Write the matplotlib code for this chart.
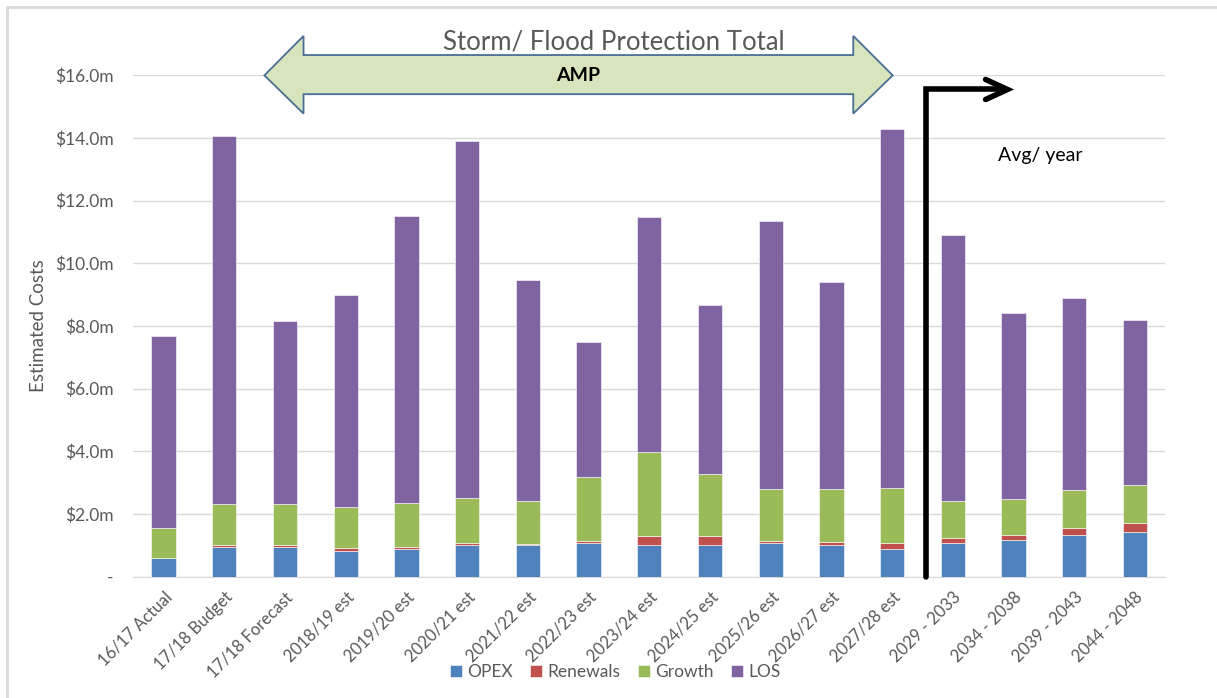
import numpy as np
import matplotlib
matplotlib.use('Agg')
import matplotlib.pyplot as plt
from matplotlib.patches import Polygon, Rectangle

plt.rcParams['font.family'] = ['Lato', 'DejaVu Sans']

categories = ['16/17 Actual', '17/18 Budget', '17/18 Forecast', '2018/19 est',
              '2019/20 est', '2020/21 est', '2021/22 est', '2022/23 est',
              '2023/24 est', '2024/25 est', '2025/26 est', '2026/27 est',
              '2027/28 est', '2029 - 2033', '2034 - 2038', '2039 - 2043',
              '2044 - 2048']
# values in $m
opex = [0.59, 0.96, 0.96, 0.83, 0.89, 1.00, 1.00, 1.07, 1.00, 1.00, 1.07,
        1.01, 0.89, 1.07, 1.18, 1.32, 1.43]
renewals = [0.00, 0.06, 0.06, 0.10, 0.07, 0.07, 0.03, 0.07, 0.30, 0.30, 0.07,
            0.11, 0.19, 0.16, 0.15, 0.22, 0.27]
growth = [0.95, 1.29, 1.29, 1.28, 1.38, 1.45, 1.40, 2.03, 2.69, 1.98, 1.66,
          1.68, 1.75, 1.20, 1.16, 1.23, 1.22]
los = [6.14, 11.77, 5.84, 6.79, 9.17, 11.37, 7.03, 4.33, 7.49, 5.39, 8.56,
       6.60, 11.46, 8.46, 5.93, 6.11, 5.26]
yticks = [0, 2, 4, 6, 8, 10, 12, 14, 16]

series = [('OPEX', opex, '#4F81BD'), ('Renewals', renewals, '#C0504D'),
          ('Growth', growth, '#9BBB59'), ('LOS', los, '#8064A2')]

fig = plt.figure(figsize=(12.17, 6.98), dpi=100)
ax = fig.add_axes([0.1095, 0.1738, 0.848, 0.7182])

x = np.arange(len(categories))
bottom = np.zeros(len(categories))
handles = []
for name, vals, col in series:
    b = ax.bar(x, vals, 0.4, bottom=bottom, color=col, label=name,
               edgecolor='white', linewidth=0.4, zorder=3)
    handles.append(b)
    bottom += np.array(vals)

ax.set_xlim(-0.5, len(categories) - 0.5)
ax.set_ylim(0, 16)
ax.set_yticks(yticks)
ax.set_yticklabels(['-' if v == 0 else '${:.1f}m'.format(v) for v in yticks],
                   color='#595959', fontsize=12.5)
ax.set_xticks(x)
ax.set_xticklabels(categories, rotation=45, ha='right', rotation_mode='anchor',
                   color='#595959', fontsize=12)
ax.tick_params(axis='both', length=0)
ax.tick_params(axis='y', pad=14)
ax.tick_params(axis='x', pad=9)
ax.grid(axis='y', color='#D9D9D9', linewidth=1, zorder=0)
for s in ['top', 'right', 'left']:
    ax.spines[s].set_visible(False)
ax.spines['bottom'].set_color('#D9D9D9')
ax.set_ylabel('Estimated Costs', color='#595959', fontsize=13.5, labelpad=6)

# AMP double arrow
arrow_pts = [(1.66, 16.0), (2.305, 17.26), (2.305, 16.65), (11.36, 16.65),
             (11.36, 17.26), (12.01, 16.0), (11.36, 14.78), (11.36, 15.40),
             (2.305, 15.40), (2.305, 14.78)]
ax.add_patch(Polygon(arrow_pts, closed=True, facecolor='#D8E4BC',
                     edgecolor='#4A6D96', linewidth=1.3, clip_on=False, zorder=5))
ax.text(6.83, 16.0, 'AMP', ha='center', va='center', fontsize=14,
        fontweight='bold', color='black', zorder=6)
fig.text(614 / 1217, 1 - 42 / 698, 'Storm/ Flood Protection Total',
         ha='center', va='center', fontsize=18.5, color='#595959')

# Avg/ year bent arrow
ax.plot([12.56, 12.56, 13.85], [0, 15.55, 15.55], color='black', lw=4,
        solid_capstyle='round', solid_joinstyle='miter', clip_on=False, zorder=6)
ax.plot([13.54, 13.9, 13.54], [15.87, 15.55, 15.23], color='black', lw=4,
        solid_capstyle='round', solid_joinstyle='miter', clip_on=False, zorder=6)
ax.text(13.75, 13.45, 'Avg/ year', ha='left', va='center', fontsize=14,
        color='black')

fig.legend(handles=handles, labels=[s[0] for s in series], loc='center',
           bbox_to_anchor=(615 / 1217, 1 - 672 / 698), ncol=4, frameon=False,
           fontsize=12.5, handlelength=0.7, handleheight=0.7, handletextpad=0.3,
           columnspacing=1.0, labelcolor='#595959')

fig.add_artist(Rectangle((7 / 1217, -0.1), 1.2, 1 - 7 / 698 + 0.1,
                         transform=fig.transFigure, fill=False,
                         edgecolor='#D9D9D9', linewidth=2))

fig.savefig('out.png', dpi=100)
